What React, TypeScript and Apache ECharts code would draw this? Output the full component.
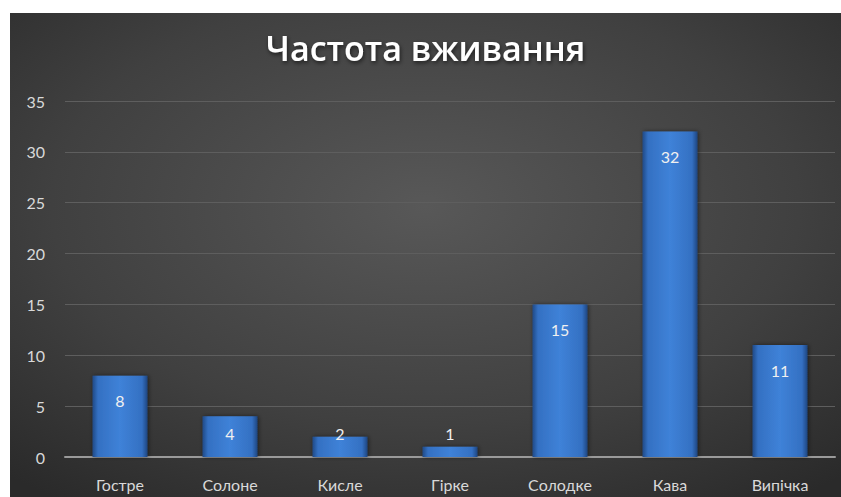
import React, { useEffect, useRef } from "react";
import * as echarts from "echarts";

const categories = ["Гостре", "Солоне", "Кисле", "Гірке", "Солодке", "Кава", "Випічка"];
const values = [8, 4, 2, 1, 15, 32, 11];
const titleText = "Частота вживання";
const yMin = 0;
const yMax = 35;
const yStep = 5;

export default function App() {
  const ref = useRef<HTMLDivElement>(null);
  useEffect(() => {
    if (!ref.current) return;
    const chart = echarts.init(ref.current, null, { renderer: "svg" });
    const font = "Lato, 'Noto Sans', sans-serif";
    const barColor = new echarts.graphic.LinearGradient(0, 0, 1, 0, [
      { offset: 0, color: "#214a87" },
      { offset: 0.1, color: "#3470c2" },
      { offset: 0.5, color: "#3f82d8" },
      { offset: 0.9, color: "#3470c2" },
      { offset: 1, color: "#1d4580" },
    ]);
    const data = values.map((v) => ({
      value: v,
      label:
        v < 4.6
          ? { position: "insideBottom", distance: 16 }
          : { position: "insideTop", distance: 17 },
    }));
    chart.setOption({
      animation: false,
      backgroundColor: new echarts.graphic.RadialGradient(0.5, 0.4, 0.75, [
        { offset: 0, color: "#585858" },
        { offset: 0.6, color: "#404040" },
        { offset: 1, color: "#2a2a2a" },
      ]),
      title: {
        text: titleText,
        left: "center",
        top: 13,
        textStyle: {
          color: "#ffffff",
          fontFamily: "'Open Sans', 'Noto Sans', sans-serif",
          fontWeight: 600,
          fontSize: 34,
          textShadowColor: "rgba(0,0,0,0.6)",
          textShadowBlur: 4,
          textShadowOffsetX: 1,
          textShadowOffsetY: 2,
        },
      },
      grid: { left: 55, right: 6, top: 88, bottom: 40, containLabel: false },
      xAxis: {
        type: "category",
        data: categories,
        axisLine: { show: true, lineStyle: { color: "#9a9a9a", width: 2 } },
        axisTick: { show: false },
        axisLabel: { color: "#d9d9d9", fontSize: 16, fontFamily: font, margin: 19 },
      },
      yAxis: {
        type: "value",
        min: yMin,
        max: yMax,
        interval: yStep,
        axisLine: { show: false },
        axisTick: { show: false },
        axisLabel: { color: "#d9d9d9", fontSize: 16, fontFamily: font, margin: 20 },
        splitLine: { lineStyle: { color: "#5e5e5e", width: 1 } },
      },
      series: [
        {
          type: "bar",
          data,
          barWidth: "50%",
          itemStyle: {
            color: barColor,
            shadowColor: "rgba(0,0,0,0.5)",
            shadowBlur: 4,
            shadowOffsetX: 1,
            shadowOffsetY: 0,
          },
          label: {
            show: true,
            color: "#f0f0f0",
            fontSize: 16,
            fontFamily: font,
          },
        },
      ],
    });
    return () => chart.dispose();
  }, []);
  return (
    <div
      ref={ref}
      style={{ position: "absolute", left: 10, top: 13, width: 831, height: 484 }}
    />
  );
}
